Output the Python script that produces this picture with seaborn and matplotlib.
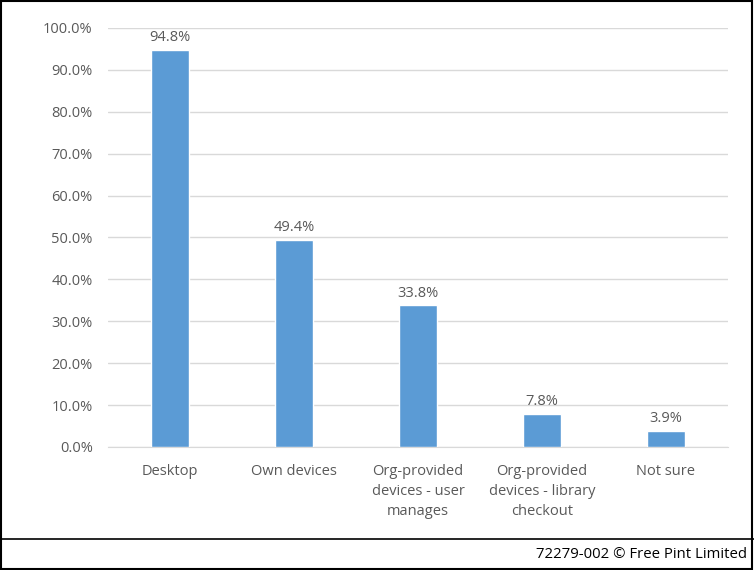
import pandas as pd
import seaborn as sns
import matplotlib.pyplot as plt
from matplotlib.patches import Rectangle
from matplotlib.lines import Line2D
from matplotlib.ticker import FuncFormatter

# Data
categories = ['Desktop', 'Own devices', 'Org-provided\ndevices - user\nmanages',
              'Org-provided\ndevices - library\ncheckout', 'Not sure']
values = [94.8, 49.4, 33.8, 7.8, 3.9]
y_ticks = [0, 10, 20, 30, 40, 50, 60, 70, 80, 90, 100]
footer = '72279-002 \u00a9 Free Pint Limited'

sns.set_style('white')
plt.rcParams['font.family'] = ['Open Sans', 'DejaVu Sans']

df = pd.DataFrame({'category': categories, 'value': values})

fig = plt.figure(figsize=(7.54, 5.70), dpi=100)
ax = fig.add_axes([0.1432, 0.2158, 0.8223, 0.7351])

sns.barplot(data=df, x='category', y='value', color='#5B9BD5', width=0.31,
            saturation=1, ax=ax, zorder=3)

ax.set_ylim(0, 100)
ax.set_yticks(y_ticks)
ax.yaxis.set_major_formatter(FuncFormatter(lambda v, p: f'{v:.1f}%'))
ax.grid(axis='y', color='#D9D9D9', linewidth=1, zorder=0)
ax.set_xlabel('')
ax.set_ylabel('')
for s in ['top', 'right', 'left']:
    ax.spines[s].set_visible(False)
ax.spines['bottom'].set_color('#D9D9D9')
ax.tick_params(axis='both', length=0, labelsize=10.5, colors='#595959')
ax.tick_params(axis='y', pad=11)
ax.tick_params(axis='x', pad=12)
for lbl in ax.get_xticklabels():
    lbl.set_linespacing(1.45)

ax.bar_label(ax.containers[0], fmt='%.1f%%', padding=3.5, fontsize=10.5, color='#595959')

# footer strip and outer border
fig.add_artist(Line2D([0, 1], [0.0544, 0.0544], color='black', linewidth=1.2,
                      transform=fig.transFigure))
fig.text(0.991, 0.028, footer, ha='right', va='center', fontsize=10.7, color='black')
fig.add_artist(Rectangle((0.001, 0.001), 0.997, 0.997, fill=False, edgecolor='black',
                         linewidth=1.5, transform=fig.transFigure))

plt.savefig('out.png', dpi=100)
